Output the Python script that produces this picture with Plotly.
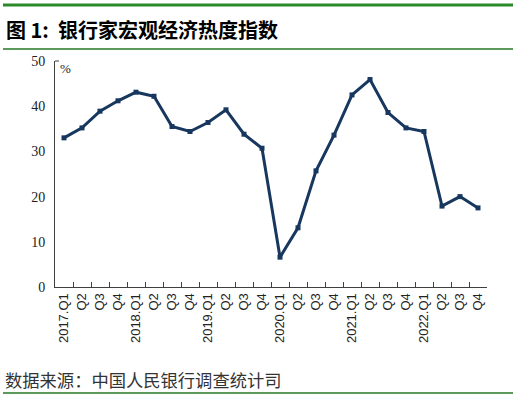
import plotly.graph_objects as go

categories = [f"{y}.Q{q}" for y in range(2017, 2023) for q in range(1, 5)]
tick_labels = [c if c.endswith("Q1") else c.split(".")[1] for c in categories]
values = [33.0, 35.2, 38.9, 41.2, 43.1, 42.2, 35.5, 34.4, 36.4, 39.2, 33.8, 30.7,
          6.6, 13.1, 25.7, 33.6, 42.5, 45.9, 38.6, 35.2, 34.4, 17.9, 20.0, 17.5]
y_ticks = [0, 10, 20, 30, 40, 50]

W, H = 518, 398
L, R, T, B = 55, 487, 61, 287

def px(x):
    return (x - L) / (R - L)

def py(y):
    return (B - y) / (B - T)

NAVY = "#17375e"

fig = go.Figure()
fig.add_trace(go.Scatter(
    x=categories, y=values, mode="lines+markers",
    line=dict(color=NAVY, width=3),
    marker=dict(symbol="square", size=5, color=NAVY),
    hoverinfo="x+y", showlegend=False,
))

fig.update_layout(
    width=W, height=H,
    margin=dict(l=L, r=W - R, t=T, b=H - B),
    paper_bgcolor="white", plot_bgcolor="white",
    xaxis=dict(
        type="category", tickmode="array", tickvals=categories, ticktext=tick_labels,
        tickangle=-90, tickson="boundaries", ticks="inside", ticklen=5,
        tickcolor="#404040", showline=True, linecolor="#404040", linewidth=1,
        showgrid=False, zeroline=False,
        tickfont=dict(family="Liberation Sans", size=13, color="#222"),
        range=[-0.5, 23.5],
    ),
    yaxis=dict(
        range=[0, 50], tickvals=y_ticks, showgrid=False, zeroline=False,
        showline=True, linecolor="#404040", linewidth=1, ticks="",
        tickfont=dict(family="Liberation Serif", size=14, color="#222"),
        ticklabelstandoff=6,
    ),
)

fig.add_annotation(text="%", xref="paper", yref="paper", x=px(58), y=py(68),
                   xanchor="left", yanchor="middle", showarrow=False,
                   font=dict(family="Liberation Serif", size=13, color="#222"))
fig.add_shape(type="line", xref="paper", yref="paper", x0=px(55), x1=px(59),
              y0=py(61), y1=py(61), line=dict(color="#404040", width=1))

fig.add_annotation(text="<b>图 1:  银行家宏观经济热度指数</b>", xref="paper", yref="paper",
                   x=px(4), y=py(29), xanchor="left", yanchor="middle", showarrow=False,
                   font=dict(family="Noto Sans CJK SC", size=20, color="#000"))
fig.add_annotation(text="数据来源：中国人民银行调查统计司", xref="paper", yref="paper",
                   x=px(3), y=py(379), xanchor="left", yanchor="middle", showarrow=False,
                   font=dict(family="Noto Sans CJK SC", size=17.3, color="#333"))

for yy, col, wd in [(5, "#2a8a2a", 3), (49, "#5c9a5c", 2), (393, "#5c9a5c", 2)]:
    fig.add_shape(type="line", xref="paper", yref="paper", x0=px(3), x1=px(513),
                  y0=py(yy), y1=py(yy), line=dict(color=col, width=wd))

fig.write_html("out.html", config={"displayModeBar": False},
               post_script="document.body.style.margin='0';")
